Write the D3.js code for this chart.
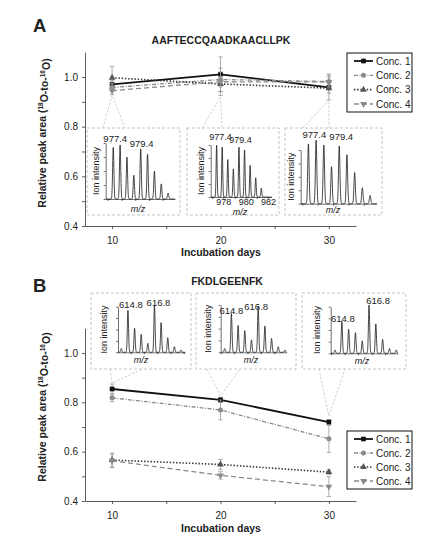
<!DOCTYPE html>
<html lang="en">
<head>
<meta charset="UTF-8">
<title>Relative peak area vs incubation days</title>
<style>
  body { margin: 0; background: #fff; }
  text { font-family: "Liberation Sans Narrow", "Arial Narrow", "Liberation Sans", Arial, sans-serif; fill: #222; }
</style>
</head>
<body>
<div id="chart"></div>
<script src="https://cdn.jsdelivr.net/npm/d3@7/dist/d3.min.js"></script>
<script>
// ---------- data ----------
var days = [10, 20, 30];
var seriesNames = ["Conc. 1", "Conc. 2", "Conc. 3", "Conc. 4"];
var yTicks = [0.4, 0.5, 0.6, 0.7, 0.8, 0.9, 1.0];
var yTickLabels = ["0.4", "0.6", "0.8", "1.0"];
var xTicks = [10, 15, 20, 25, 30];
var xTickLabels = ["10", "20", "30"];

// panel A : AAFTECCQAADKAACLLPK
var aValues = [
  [0.970, 1.011, 0.958],
  [0.958, 0.990, 0.982],
  [0.997, 0.972, 0.955],
  [0.945, 0.981, 0.980]
];
var aErrors = [
  [0.015, 0.070, 0.050],
  [0.015, 0.030, 0.030],
  [0.045, 0.030, 0.020],
  [0.015, 0.055, 0.020]
];
// panel B : FKDLGEENFK
var bValues = [
  [0.854, 0.810, 0.720],
  [0.818, 0.769, 0.652],
  [0.566, 0.548, 0.517],
  [0.563, 0.504, 0.458]
];
var bErrors = [
  [0.020, 0.010, 0.010],
  [0.015, 0.040, 0.055],
  [0.028, 0.020, 0.010],
  [0.028, 0.015, 0.040]
];

// isotope envelopes in the insets (relative intensity per peak)
var aMz = [977.4, 977.9, 978.4, 978.9, 979.4, 979.9, 980.4, 980.9, 981.4];
var aPeakLabels = ["977.4", "979.4"];
var aSpectra = [
  [0.96, 1.00, 0.78, 0.44, 0.93, 0.83, 0.52, 0.28, 0.11],
  [1.00, 0.96, 0.72, 0.54, 0.96, 0.91, 0.61, 0.37, 0.17],
  [0.94, 1.00, 0.92, 0.58, 0.91, 0.77, 0.49, 0.25, 0.13]
];
var aMidTicks = ["978", "980", "982"];

var bMz = [614.3, 614.8, 615.3, 615.8, 616.3, 616.8, 617.3, 617.8, 618.3, 618.8];
var bPeakLabels = ["614.8", "616.8"];
var bSpectra = [
  [0.08, 0.89, 0.51, 0.38, 0.19, 1.00, 0.63, 0.31, 0.12, 0.05],
  [0.08, 0.84, 0.58, 0.47, 0.27, 1.00, 0.57, 0.30, 0.12, 0.05],
  [0.07, 0.66, 0.50, 0.43, 0.26, 1.00, 0.61, 0.29, 0.10, 0.07]
];

// ---------- drawing ----------
var W = 431, H = 544;
var svg = d3.select("#chart").append("svg").attr("width", W).attr("height", H);
svg.append("rect").attr("width", W).attr("height", H).attr("fill", "#fff");

var styles = [
  {stroke: "#111", width: 1.8, dash: null, sym: d3.symbolSquare, size: 22, fill: "#111", rot: 0},
  {stroke: "#8a8a8a", width: 1.3, dash: "4,1.5,1,1.5", sym: d3.symbolCircle, size: 20, fill: "#8a8a8a", rot: 0},
  {stroke: "#333", width: 1.6, dash: "1.4,1.8", sym: d3.symbolTriangle, size: 20, fill: "#555", rot: 0},
  {stroke: "#8a8a8a", width: 1.3, dash: "5,3", sym: d3.symbolTriangle, size: 20, fill: "#8a8a8a", rot: 180}
];

function drawSpectrum(g, ins, mz, heights, labels) {
  var ix = d3.scaleLinear().domain(ins.mzDomain).range([ins.ax0, ins.ax1]);
  var iy = d3.scaleLinear().domain([0, 1]).range([ins.base, ins.top]);
  var sigma = 0.045;
  var pts = [];
  var n = 500;
  for (var k = 0; k <= n; k++) {
    var m = ins.mzDomain[0] + (ins.mzDomain[1] - ins.mzDomain[0]) * k / n;
    var v = 0;
    for (var j = 0; j < mz.length; j++) {
      var t = (m - mz[j]) / sigma;
      v += heights[j] * Math.exp(-0.5 * t * t);
    }
    pts.push([ix(m), iy(v)]);
  }
  // frame
  g.append("rect")
    .attr("x", ins.box[0]).attr("y", ins.box[1])
    .attr("width", ins.box[2] - ins.box[0]).attr("height", ins.box[3] - ins.box[1])
    .attr("fill", "#fff").attr("stroke", "#bdbdbd").attr("stroke-width", 0.9)
    .attr("stroke-dasharray", "3,2");
  // inner axes
  var ay = d3.scaleLinear().domain([0, 4]).range([ins.base, ins.axTop]);
  g.append("g").attr("transform", "translate(" + ins.ax0 + ",0)")
    .call(d3.axisLeft(ay).tickValues([0, 1, 2, 3, 4]).tickSize(2).tickSizeOuter(0).tickFormat(""))
    .call(function (s) { s.selectAll("path,line").attr("stroke", "#333").attr("stroke-width", 0.7); });
  var xt = d3.range(Math.ceil(ins.mzDomain[0]), Math.floor(ins.mzDomain[1]) + 1);
  var xa = g.append("g").attr("transform", "translate(0," + ins.base + ")")
    .call(d3.axisBottom(ix).tickValues(xt).tickSize(2).tickSizeOuter(0).tickPadding(1)
      .tickFormat(function (d) { return ins.tickLabels && ins.tickLabels.indexOf(String(d)) >= 0 ? d : ""; }));
  xa.selectAll("path,line").attr("stroke", "#333").attr("stroke-width", 0.7);
  xa.selectAll("text").attr("font-size", 9).attr("dy", "0.5em").attr("fill", "#222");
  g.append("path").attr("d", d3.line()(pts))
    .attr("fill", "none").attr("stroke", "#1a1a1a").attr("stroke-width", 0.8);
  // labels
  g.append("text").attr("x", ins.ylabX).attr("y", (ins.base + ins.axTop) / 2)
    .attr("transform", "rotate(-90," + ins.ylabX + "," + ((ins.base + ins.axTop) / 2) + ")")
    .attr("text-anchor", "middle").attr("font-size", 9).text("Ion intensity");
  g.append("text").attr("x", ins.mzLab[0]).attr("y", ins.mzLab[1])
    .attr("text-anchor", "middle").attr("font-size", 9).attr("font-style", "italic").text("m/z");
  labels.forEach(function (lab, i) {
    g.append("text")
      .attr("x", ix(+lab) + ins.labDx[i]).attr("y", ins.labY[i])
      .attr("text-anchor", "middle").attr("font-size", ins.labSize || 9.5).text(lab);
  });
}

function drawPanel(p) {
  var x = d3.scaleLinear().domain([7.5, 32.5]).range([85, 356]);
  var y = d3.scaleLinear().domain([0.4, 1.1]).range(p.yRange);
  var g = svg.append("g");

  // panel letter and title
  g.append("text").attr("x", 33).attr("y", p.letterY).attr("font-size", 18.5)
    .attr("font-weight", "bold").style("font-family", "'Liberation Sans', Arial, sans-serif")
    .attr("fill", "#111").text(p.letter);
  g.append("text").attr("x", p.titleX).attr("y", p.titleY).attr("text-anchor", "middle")
    .attr("font-size", 10.5).attr("font-weight", "bold").attr("fill", "#111").text(p.title);

  // callouts behind insets
  p.insets.forEach(function (ins, i) {
    var ax = x(days[i]);
    g.append("path")
      .attr("d", d3.line()([[ins.call[0], ins.call[1]], [ax, ins.apexY], [ins.call[2], ins.call[1]]]))
      .attr("fill", "none").attr("stroke", "#c4c4c4").attr("stroke-width", 0.8)
      .attr("stroke-dasharray", "2.5,1.5");
  });
  p.insets.forEach(function (ins, i) {
    drawSpectrum(g, ins, p.mz, p.spectra[i], p.peakLabels);
  });

  // axes
  var ya = g.append("g").attr("transform", "translate(85,0)")
    .call(d3.axisLeft(y).tickValues(yTicks).tickSize(3).tickSizeOuter(0).tickPadding(4)
      .tickFormat(function (d) { var s = d.toFixed(1); return yTickLabels.indexOf(s) >= 0 ? s : ""; }));
  var xa = g.append("g").attr("transform", "translate(0," + y(0.4) + ")")
    .call(d3.axisBottom(x).tickValues(xTicks).tickSize(3).tickSizeOuter(0).tickPadding(8)
      .tickFormat(function (d) { return xTickLabels.indexOf(String(d)) >= 0 ? d : ""; }));
  [ya, xa].forEach(function (a) {
    a.selectAll("path,line").attr("stroke", "#333").attr("stroke-width", 0.8);
    a.selectAll("text").attr("font-size", 10).attr("fill", "#333");
  });

  // axis titles
  g.append("text").attr("x", 221).attr("y", p.xTitleY).attr("text-anchor", "middle")
    .attr("font-size", 10.5).attr("font-weight", "bold").attr("fill", "#111").text("Incubation days");
  var yl = g.append("text").attr("transform", "translate(46," + p.yTitleY + ") rotate(-90)")
    .attr("text-anchor", "middle").attr("font-size", 10.5).attr("font-weight", "bold").attr("fill", "#111");
  yl.append("tspan").text("Relative peak area (");
  yl.append("tspan").attr("font-size", 6.5).attr("dy", "-0.45em").text("18");
  yl.append("tspan").attr("dy", "0.45em").text("O-to-");
  yl.append("tspan").attr("font-size", 6.5).attr("dy", "-0.45em").text("16");
  yl.append("tspan").attr("dy", "0.45em").text("O)");

  // series
  p.values.forEach(function (vals, si) {
    var st = styles[si];
    var pts = vals.map(function (v, i) { return {d: days[i], v: v, e: p.errors[si][i]}; });
    var sg = g.append("g");
    sg.selectAll("line.eb").data(pts).enter().append("line")
      .attr("x1", function (d) { return x(d.d); }).attr("x2", function (d) { return x(d.d); })
      .attr("y1", function (d) { return y(d.v - d.e); }).attr("y2", function (d) { return y(d.v + d.e); })
      .attr("stroke", "#999").attr("stroke-width", 0.8);
    [-1, 1].forEach(function (sgn) {
      sg.selectAll("line.cap" + sgn).data(pts).enter().append("line")
        .attr("x1", function (d) { return x(d.d) - 2.2; }).attr("x2", function (d) { return x(d.d) + 2.2; })
        .attr("y1", function (d) { return y(d.v + sgn * d.e); }).attr("y2", function (d) { return y(d.v + sgn * d.e); })
        .attr("stroke", "#999").attr("stroke-width", 0.8);
    });
    sg.append("path").attr("d", d3.line().x(function (d) { return x(d.d); }).y(function (d) { return y(d.v); })(pts))
      .attr("fill", "none").attr("stroke", st.stroke).attr("stroke-width", st.width)
      .attr("stroke-dasharray", st.dash);
    sg.selectAll("path.m").data(pts).enter().append("path")
      .attr("d", d3.symbol().type(st.sym).size(st.size))
      .attr("transform", function (d) { return "translate(" + x(d.d) + "," + y(d.v) + ") rotate(" + st.rot + ")"; })
      .attr("fill", st.fill);
  });

  // legend
  var lg = g.append("g");
  lg.append("rect").attr("x", 347).attr("y", p.legendY).attr("width", 65).attr("height", p.legendH)
    .attr("fill", "#fff").attr("stroke", "#111").attr("stroke-width", 1);
  seriesNames.forEach(function (name, si) {
    var st = styles[si];
    var ry = p.legendY + 8 + si * (p.legendH - 16) / 3;
    lg.append("line").attr("x1", 354).attr("x2", 373).attr("y1", ry).attr("y2", ry)
      .attr("stroke", st.stroke).attr("stroke-width", st.width).attr("stroke-dasharray", st.dash);
    lg.append("path").attr("d", d3.symbol().type(st.sym).size(st.size))
      .attr("transform", "translate(363.5," + ry + ") rotate(" + st.rot + ")").attr("fill", st.fill);
    lg.append("text").attr("x", 376).attr("y", ry).attr("dy", "0.35em").attr("font-size", 10)
      .attr("fill", "#222").text(name);
  });
}

drawPanel({
  letter: "A", letterY: 31.7, title: "AAFTECCQAADKAACLLPK", titleX: 221, titleY: 44,
  yRange: [226, 52.2], xTitleY: 255.5, yTitleY: 133,
  values: aValues, errors: aErrors, legendY: 53, legendH: 59,
  mz: aMz, spectra: aSpectra, peakLabels: aPeakLabels,
  insets: [
    {box: [87, 128, 180, 215], call: [103, 128, 125], apexY: 95,
     mzDomain: [976.85, 981.9], ax0: 105.7, ax1: 175, base: 199, top: 145, axTop: 143,
     ylabX: 99, mzLab: [138, 212], labDx: [2, 1], labY: [142, 147]},
    {box: [187, 128, 279, 215], call: [202, 128, 222], apexY: 97,
     mzDomain: [976.87, 982.33], ax0: 210.7, ax1: 271.7, base: 197, top: 145, axTop: 145,
     ylabX: 204, mzLab: [240, 214.5], labDx: [4, 1.5], labY: [140, 143], labSize: 9, tickLabels: aMidTicks},
    {box: [285, 128, 382, 215], call: [303, 128, 329], apexY: 100,
     mzDomain: [976.9, 981.83], ax0: 300.7, ax1: 376.7, base: 203.7, top: 140, axTop: 150,
     ylabX: 294, mzLab: [333, 213], labDx: [6, 2], labY: [138, 140]}
  ]
});

drawPanel({
  letter: "B", letterY: 291.7, title: "FKDLGEENFK", titleX: 227, titleY: 285,
  yRange: [501, 328.3], xTitleY: 531.5, yTitleY: 407,
  values: bValues, errors: bErrors, legendY: 431, legendH: 58,
  mz: bMz, spectra: bSpectra, peakLabels: bPeakLabels,
  insets: [
    {box: [91, 293, 191, 369], call: [110, 369, 143], apexY: 383,
     mzDomain: [614.05, 619.1], ax0: 118, ax1: 185, base: 352.3, top: 305, axTop: 306.7,
     ylabX: 107, mzLab: [141, 363], labDx: [3, 4], labY: [308, 306]},
    {box: [196, 293, 296, 369], call: [207, 369, 240], apexY: 396,
     mzDomain: [614.0, 618.93], ax0: 220.7, ax1: 286.7, base: 352.3, top: 306, axTop: 305,
     ylabX: 211, mzLab: [251, 363], labDx: [0, -2], labY: [314, 310]},
    {box: [302, 293, 406, 369], call: [319, 369, 345], apexY: 416,
     mzDomain: [613.98, 618.93], ax0: 330.7, ax1: 398, base: 353.3, top: 305, axTop: 306.7,
     ylabX: 320, mzLab: [362, 364], labDx: [1, 9], labY: [322, 304]}
  ]
});
</script>
</body>
</html>
